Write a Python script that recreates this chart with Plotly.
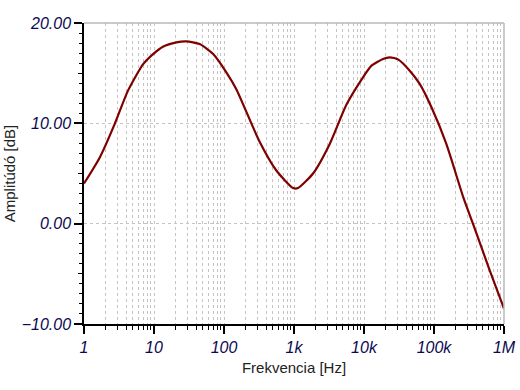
import plotly.graph_objects as go

# Frequency response data
freq_hz = [1, 1.68, 2.75, 4.25, 7.0, 9.7, 13.4, 20.9, 29, 45, 70, 108, 150, 316, 560,
           970, 1140, 1870, 3240, 5600, 9680, 12800, 18700, 23300, 31000, 45000,
           62500, 92000, 150000, 260000, 360000, 625000, 1000000]
amplitude_db = [4.0, 6.6, 9.95, 13.26, 15.9, 16.9, 17.64, 18.07, 18.17, 17.9, 16.9, 15.08,
                13.4, 8.3, 5.3, 3.55, 3.55, 5.0, 7.95, 11.85, 14.59, 15.75, 16.42, 16.58,
                16.35, 15.25, 13.93, 11.6, 7.95, 2.7, 0.0, -4.65, -8.46]

x_tick_vals = [1, 10, 100, 1000, 10000, 100000, 1000000]
x_tick_text = ["1", "10", "100", "1k", "10k", "100k", "1M"]
y_tick_vals = [-10, 0, 10, 20]
y_mid_tick_vals = [-5, 5, 15]

minor_x = [m * 10 ** k for k in range(6) for m in range(2, 10)]

tick_font = dict(family="Liberation Sans, Arial, sans-serif", size=16,
                 color="#0a0a50", style="italic")
title_font = dict(family="Liberation Sans, Arial, sans-serif", size=15, color="#222222")
grid_color = "#c4c4c4"
grid_dash = "3px,3px"

fig = go.Figure()
fig.add_trace(go.Scatter(
    x=freq_hz, y=amplitude_db, mode="lines",
    line=dict(color="#800000", width=2.2, shape="spline", smoothing=0.6),
    hoverinfo="skip", showlegend=False,
))
# invisible trace to make the secondary (medium tick) axis render
fig.add_trace(go.Scatter(x=[None], y=[None], yaxis="y2", showlegend=False, hoverinfo="skip"))

fig.update_layout(
    width=520, height=390,
    margin=dict(l=84, r=16, t=23, b=66),
    paper_bgcolor="white", plot_bgcolor="white",
    xaxis=dict(
        type="log", range=[0, 6], automargin=False,
        tickmode="array", tickvals=x_tick_vals, ticktext=x_tick_text,
        ticks="outside", ticklen=8, tickwidth=1.5, tickcolor="black",
        showline=True, linecolor="black", linewidth=1.5,
        showgrid=True, gridcolor=grid_color, griddash=grid_dash, gridwidth=1,
        tickfont=tick_font,
        minor=dict(tickmode="array", tickvals=minor_x, ticks="outside", ticklen=4,
                   tickwidth=1, tickcolor="black", showgrid=True,
                   gridcolor=grid_color, griddash=grid_dash, gridwidth=1),
        title=dict(text="Frekvencia [Hz]", font=title_font, standoff=8),
        zeroline=False,
    ),
    yaxis=dict(
        range=[-10, 20], automargin=False,
        tickmode="array", tickvals=y_tick_vals, tickformat=".2f",
        ticks="outside", ticklen=8, tickwidth=1.5, tickcolor="black",
        showline=True, linecolor="black", linewidth=1.5,
        showgrid=True, gridcolor=grid_color, griddash=grid_dash, gridwidth=1,
        tickfont=tick_font,
        minor=dict(dtick=1, tick0=0, ticks="outside", ticklen=3, tickwidth=1,
                   tickcolor="black", showgrid=False),
        title=dict(text="Amplitúdó [dB]", font=title_font, standoff=2),
        zeroline=False,
    ),
    yaxis2=dict(
        overlaying="y", side="left", anchor="x", range=[-10, 20], automargin=False,
        tickmode="array", tickvals=y_mid_tick_vals,
        ticks="outside", ticklen=5, tickwidth=1, tickcolor="black",
        showticklabels=False, showgrid=False, showline=False, zeroline=False,
    ),
    shapes=[
        dict(type="line", xref="paper", yref="paper", x0=0, x1=1, y0=1, y1=1,
             line=dict(color="#b8b8b8", width=1.5)),
        dict(type="line", xref="paper", yref="paper", x0=1, x1=1, y0=0, y1=1,
             line=dict(color="#b8b8b8", width=1.5)),
    ],
)

fig.write_html("out.html", config={"displayModeBar": False},
               post_script="document.body.style.margin='0';")
